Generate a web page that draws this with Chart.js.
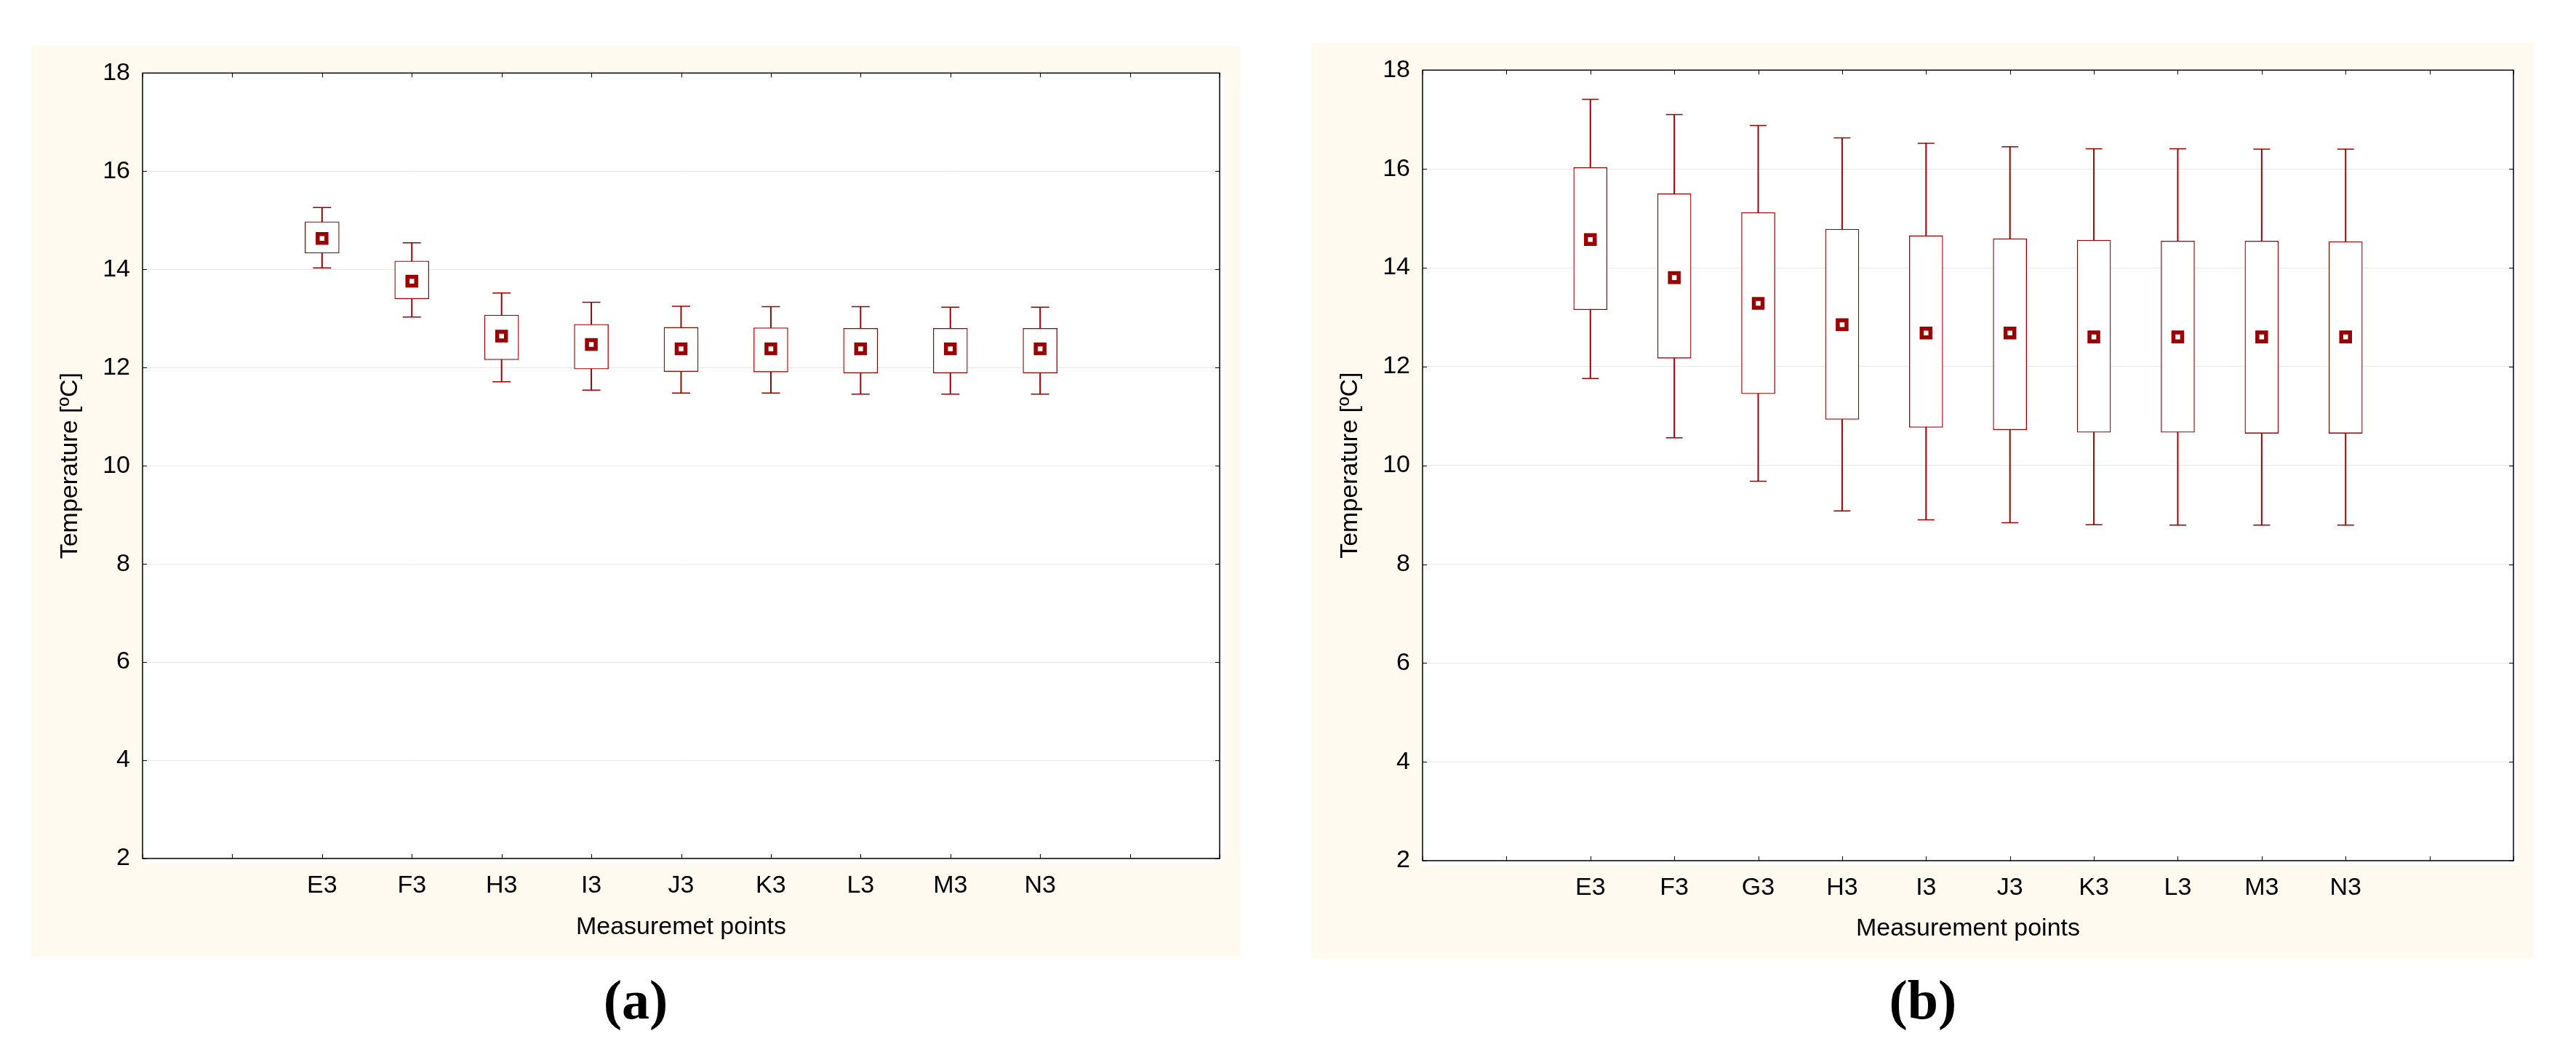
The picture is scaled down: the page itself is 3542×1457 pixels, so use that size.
<!DOCTYPE html>
<html><head><meta charset="utf-8">
<script src="https://cdn.jsdelivr.net/npm/chart.js@4.4.1/dist/chart.umd.min.js"></script>
<style>
html,body{margin:0;padding:0;background:#fff;width:3542px;height:1457px;overflow:hidden;}
canvas{position:absolute;}
#ca{left:43px;top:63px;}
#cb{left:1803px;top:59px;}
.cap{position:absolute;font-family:'Liberation Serif',serif;font-weight:bold;font-size:76px;line-height:76px;width:400px;text-align:center;color:#000;}
</style></head><body>
<canvas id="ca" width="1663" height="1252"></canvas>
<canvas id="cb" width="1681" height="1258"></canvas>
<div class="cap" style="left:674px;top:1336px">(a)</div>
<div class="cap" style="left:2444px;top:1336px">(b)</div>
<script>
// ---- Panel (a) data ----
const categoriesA = ['E3','F3','H3','I3','J3','K3','L3','M3','N3'];
const minA  = [14.03, 13.03, 11.71, 11.54, 11.48, 11.48, 11.46, 11.46, 11.46];
const q1A   = [14.33, 13.40, 12.16, 11.97, 11.92, 11.91, 11.89, 11.89, 11.89];
const meanA = [14.63, 13.76, 12.64, 12.47, 12.38, 12.38, 12.38, 12.38, 12.38];
const q3A   = [14.97, 14.17, 13.07, 12.88, 12.82, 12.81, 12.80, 12.80, 12.80];
const maxA  = [15.26, 14.54, 13.52, 13.33, 13.25, 13.24, 13.24, 13.23, 13.23];

// ---- Panel (b) data ----
const categoriesB = ['E3','F3','G3','H3','I3','J3','K3','L3','M3','N3'];
const minB  = [11.76, 10.56, 9.68, 9.08, 8.90, 8.84, 8.80, 8.79, 8.79, 8.79];
const q1B   = [13.15, 12.17, 11.45, 10.93, 10.77, 10.72, 10.67, 10.67, 10.65, 10.65];
const meanB = [14.57, 13.80, 13.28, 12.85, 12.68, 12.68, 12.60, 12.60, 12.60, 12.60];
const q3B   = [16.03, 15.50, 15.12, 14.78, 14.65, 14.59, 14.56, 14.54, 14.54, 14.53];
const maxB  = [17.41, 17.10, 16.88, 16.63, 16.52, 16.45, 16.41, 16.41, 16.40, 16.40];

// ---- Axis settings ----
const yTicks = [2, 4, 6, 8, 10, 12, 14, 16, 18];
const yTitle = 'Temperature [ºC]';
const xTitleA = 'Measuremet points';
const xTitleB = 'Measurement points';

const RED = '#9b0000';
const FONT = "'Liberation Sans', Arial, sans-serif";

const framePlugin = {
  id: 'frame',
  beforeDraw(chart) {
    const {ctx, chartArea: a} = chart;
    ctx.save();
    ctx.fillStyle = '#fffaf0';
    ctx.fillRect(0, 0, chart.width, chart.height);
    ctx.fillStyle = '#ffffff';
    ctx.fillRect(a.left, a.top, a.right - a.left + 6, a.bottom - a.top + 6);
    ctx.restore();
  },
  afterDatasetsDraw(chart) {
    const {ctx, chartArea: a, scales} = chart;
    ctx.save();
    ctx.strokeStyle = '#000';
    ctx.lineWidth = 1;
    ctx.beginPath();
    scales.y.ticks.forEach(t => {
      const py = Math.round(scales.y.getPixelForValue(t.value)) + 0.5;
      ctx.moveTo(a.left, py); ctx.lineTo(a.left + 6, py);
      ctx.moveTo(a.right, py); ctx.lineTo(a.right - 6, py);
    });
    scales.x.ticks.forEach(t => {
      const px = Math.round(scales.x.getPixelForValue(t.value)) + 0.5;
      ctx.moveTo(px, a.bottom); ctx.lineTo(px, a.bottom - 6);
      ctx.moveTo(px, a.top); ctx.lineTo(px, a.top + 6);
    });
    ctx.stroke();
    ctx.lineWidth = 1.5;
    ctx.strokeRect(a.left, a.top, a.right - a.left, a.bottom - a.top);
    ctx.restore();
  }
};

function makeChart(id, cats, mins, q1s, means, q3s, maxs, cfg) {
  const pos = i => i + 2;
  const boxes = cats.map((c, i) => ({x: pos(i), y: [q1s[i], q3s[i]]}));
  const whisk = cats.map((c, i) => ({x: pos(i), y: [mins[i], maxs[i]]}));
  const lowCaps = cats.map((c, i) => ({x: pos(i), y: mins[i]}));
  const highCaps = cats.map((c, i) => ({x: pos(i), y: maxs[i]}));
  const meanPts = cats.map((c, i) => ({x: pos(i), y: means[i]}));
  const xMax = cats.length + 3;

  return new Chart(document.getElementById(id), {
    type: 'bar',
    data: {
      datasets: [
        {type: 'bar', data: whisk, grouped: false, order: 4, barThickness: 1.3,
         backgroundColor: RED, borderWidth: 0},
        {type: 'bar', data: boxes, grouped: false, order: 3, barThickness: cfg.boxW,
         backgroundColor: '#ffffff', borderColor: RED, borderWidth: 1.3, borderSkipped: false},
        {type: 'scatter', data: lowCaps, order: 2, pointStyle: 'line', pointRadius: cfg.capR,
         borderColor: RED, borderWidth: 1.5},
        {type: 'scatter', data: highCaps, order: 2, pointStyle: 'line', pointRadius: cfg.capR,
         borderColor: RED, borderWidth: 1.5},
        {type: 'scatter', data: meanPts, order: 1, pointStyle: 'rect', pointRadius: 8.5,
         backgroundColor: '#ffffff', borderColor: RED, borderWidth: 5.5}
      ]
    },
    options: {
      responsive: false,
      animation: false,
      devicePixelRatio: 1,
      layout: {padding: {left: 0, top: cfg.padTop, right: cfg.padRight, bottom: 0}},
      plugins: {legend: {display: false}, tooltip: {enabled: false}},
      scales: {
        x: {
          type: 'linear', min: 0, max: xMax, offset: false,
          afterFit: s => { s.height = cfg.xHeight; },
          afterBuildTicks: s => { s.ticks = Array.from({length: xMax + 1}, (_, v) => ({value: v})); },
          grid: {display: false, offset: false, drawTicks: false},
          border: {display: false},
          ticks: {
            autoSkip: false, maxRotation: 0, minRotation: 0, padding: 17, color: '#000',
            font: {family: FONT, size: 34},
            callback: v => (cats[v - 2] !== undefined ? cats[v - 2] : '')
          },
          title: {display: true, text: cfg.xTitle, color: '#000',
                  font: {family: FONT, size: 34, lineHeight: 1.2}, padding: {top: 0, bottom: 20}}
        },
        y: {
          type: 'linear', min: 2, max: 18,
          afterFit: s => { s.width = 153; },
          afterBuildTicks: s => { s.ticks = yTicks.map(v => ({value: v})); },
          grid: {color: '#e6e6e6', lineWidth: 1, drawTicks: false},
          border: {display: false},
          ticks: {padding: 17, color: '#000', font: {family: FONT, size: 34}},
          title: {display: true, text: yTitle, color: '#000',
                  font: {family: FONT, size: 34, lineHeight: 1.2}, padding: {top: 33, bottom: 0}}
        }
      }
    },
    plugins: [framePlugin]
  });
}

makeChart('ca', categoriesA, minA, q1A, meanA, q3A, maxA,
  {boxW: 47, capR: 12.5, xTitle: xTitleA, padTop: 35, padRight: 29, xHeight: 135});
makeChart('cb', categoriesB, minB, q1B, meanB, q3B, maxB,
  {boxW: 46, capR: 11.5, xTitle: xTitleB, padTop: 36, padRight: 28, xHeight: 134});
</script>
</body></html>
